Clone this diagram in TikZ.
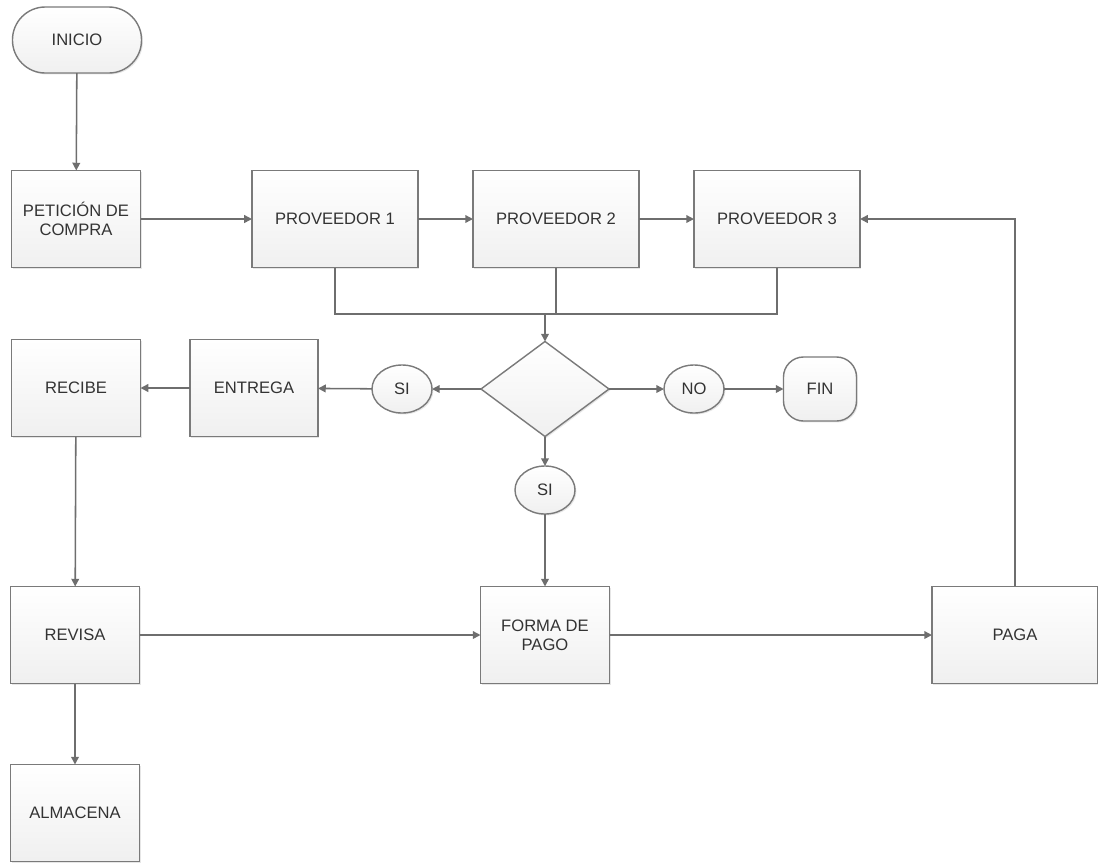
\documentclass[tikz,border=0pt]{standalone}
\usepackage{fontspec}
\setmainfont{Liberation Sans}
\usetikzlibrary{shapes.geometric,arrows.meta,shadows}
\definecolor{borde}{HTML}{7A7A7A}
\definecolor{linea}{HTML}{6E6E6E}
\definecolor{texto}{HTML}{333333}
\tikzset{
  caja/.style={draw=borde, line width=1pt, top color=white, bottom color=gray!12,
    minimum width=3.225cm, minimum height=2.425cm, align=center, text=texto,
    font=\fontsize{11.8}{13.2}\selectfont, outer sep=0pt,
    drop shadow={shadow xshift=1pt, shadow yshift=-1pt, opacity=0.2}},
  ancha/.style={caja, minimum width=4.15cm},
  terminal/.style={caja, rounded corners=0.82cm, minimum height=1.65cm},
  respuesta/.style={caja, ellipse, minimum width=1.5cm, minimum height=1.2cm},
  decision/.style={caja, diamond, inner sep=0pt, minimum width=3.2cm, minimum height=2.375cm},
  flecha/.style={draw=linea, line width=1.1pt, -{Triangle[length=5.5pt,width=5.5pt]}},
  linea/.style={draw=linea, line width=1.1pt}
}
\begin{document}
\begin{tikzpicture}[x=0.025cm, y=-0.025cm]
% lienzo de 1098 x 863 (coordenadas en pixeles)
\useasboundingbox (0,0) rectangle (1098,863);

% primera columna
\node[terminal] (inicio) at (77,40) {INICIO};
\node[caja] (peticion) at (76,219) {PETICIÓN DE\\COMPRA};
\node[caja] (recibe) at (76,388) {RECIBE};
\node[caja] (revisa) at (75,635) {REVISA};
\node[caja] (almacena) at (75,813) {ALMACENA};

% proveedores
\node[ancha] (prov1) at (335,219) {PROVEEDOR 1};
\node[ancha] (prov2) at (556,219) {PROVEEDOR 2};
\node[ancha] (prov3) at (777,219) {PROVEEDOR 3};

% decision
\coordinate (junta) at (545,314);
\node[decision] (dec) at (545,389) {};
\node[respuesta] (si1) at (402,389) {SI};
\node[caja, minimum width=3.2cm] (entrega) at (254,388) {ENTREGA};
\node[respuesta] (no) at (694,389) {NO};
\node[terminal, minimum width=1.825cm, minimum height=1.6cm, rounded corners=0.5cm] (fin) at (820,389) {FIN};
\node[respuesta] (si2) at (545,490) {SI};

% pago
\node[caja] (forma) at (545,635) {FORMA DE\\PAGO};
\node[ancha] (paga) at (1015,635) {PAGA};

% conectores
\draw[flecha] (inicio) -- (peticion);
\draw[flecha] (peticion) -- (prov1);
\draw[flecha] (prov1) -- (prov2);
\draw[flecha] (prov2) -- (prov3);
\draw[linea] (prov1.south) |- (junta);
\draw[linea] (prov3.south) |- (junta);
\draw[linea] (prov2.south) -- (prov2.south |- junta);
\draw[flecha] (junta) -- (dec.north);
\draw[flecha] (dec.west) -- (si1);
\draw[flecha] (si1) -- (entrega);
\draw[flecha] (entrega) -- (recibe);
\draw[flecha] (dec.east) -- (no);
\draw[flecha] (no) -- (fin);
\draw[flecha] (dec.south) -- (si2);
\draw[flecha] (si2) -- (forma);
\draw[flecha] (recibe) -- (revisa);
\draw[flecha] (revisa) -- (almacena);
\draw[flecha] (revisa) -- (forma);
\draw[flecha] (forma) -- (paga);
\draw[flecha] (paga.north) |- (prov3.east);
\end{tikzpicture}
\end{document}
